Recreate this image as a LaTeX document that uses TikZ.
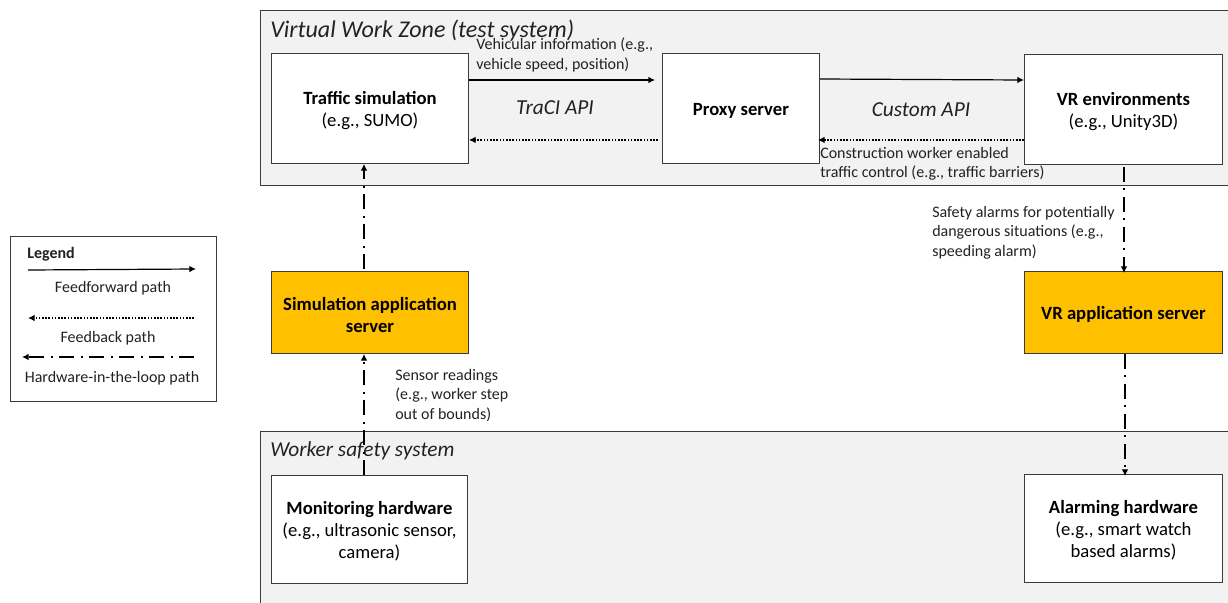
\documentclass[tikz,border=0pt]{standalone}
\usepackage{fontspec}
\setmainfont{Carlito}
\usetikzlibrary{arrows.meta,calc}
\definecolor{zonefill}{HTML}{F2F2F2}
\definecolor{appfill}{HTML}{FFC000}
\definecolor{edge}{HTML}{3A3A3A}
\definecolor{ink}{HTML}{222222}
\tikzset{
  x=0.75pt,y=-0.75pt,
  zone/.style={draw=edge,line width=0.9pt,fill=zonefill},
  whitebox/.style={draw=edge,line width=0.7pt,fill=white,align=center,text=black,font=\fontsize{14}{16.5}\selectfont},
  appbox/.style={whitebox,fill=appfill},
  lbl/.style={align=left,anchor=north west,inner sep=0pt,text=ink,font=\fontsize{12}{14.6}\selectfont},
  api/.style={inner sep=0pt,text=ink,font=\fontsize{16}{18}\selectfont\itshape},
  zonetitle/.style={anchor=west,inner sep=0pt,text=ink,font=\fontsize{16}{18}\selectfont\itshape},
  tip/.style={-{Latex[length=5pt,width=5pt]}},
  ffpath/.style={tip,line width=0.9pt,black},
  fbpath/.style={tip,line width=0.9pt,black,dash pattern=on 1.2pt off 1.2pt},
  hilpath/.style={tip,line width=0.9pt,black,dash pattern=on 11.5pt off 4.5pt on 1.5pt off 5pt},
}
\newcommand{\bx}[6]{\node[#1,minimum width=#4*0.75pt,minimum height=#5*0.75pt,anchor=north west,inner sep=0pt] (#2) at (#3) {\rule{0pt}{13pt}#6};}
\begin{document}
\begin{tikzpicture}
\useasboundingbox (0,0) rectangle (1228,603);
\clip (0,0) rectangle (1228,603);
\fill[white] (0,0) rectangle (1228,603);
% zones
\node[zone,anchor=north west,minimum width=990*0.75pt,minimum height=175*0.75pt,inner sep=0pt] (top) at (260,10) {};
\node[zone,anchor=north west,minimum width=990*0.75pt,minimum height=200*0.75pt,inner sep=0pt] (bottom) at (260,431) {};
\node[zonetitle,font=\fontsize{18}{20}\selectfont\itshape] (toptitle) at (270,31) {Virtual Work Zone (test system)};
\node[zonetitle] (bottomtitle) at (270,451) {Worker safety system};
% boxes
\bx{whitebox}{traffic}{271,53}{197}{110}{\textbf{Traffic simulation}\\(e.g., SUMO)}
\bx{whitebox}{proxy}{662,53}{157}{110}{\textbf{Proxy server}}
\bx{whitebox}{vr}{1024,54}{198}{110}{\textbf{VR environments}\\(e.g., Unity3D)}
\bx{appbox}{simapp}{271,271}{197}{82}{\textbf{Simulation application}\\\textbf{server}}
\bx{appbox}{vrapp}{1024,271}{198}{82}{\textbf{VR application server}}
\bx{whitebox}{monitor}{271,475}{196}{108}{\textbf{Monitoring hardware}\\(e.g., ultrasonic sensor,\\camera)}
\bx{whitebox}{alarm}{1024,474}{198}{108}{\textbf{Alarming hardware}\\(e.g., smart watch\\based alarms)}
% legend
\node[draw=edge,line width=0.8pt,fill=white,anchor=north west,minimum width=206*0.75pt,minimum height=165*0.75pt,inner sep=0pt] (legend) at (10,236) {};
\node[lbl,font=\fontsize{12}{14}\selectfont\bfseries] (legendtitle) at (27,247) {Legend};
\node[lbl,anchor=north] (fflabel) at (113,281) {Feedforward path};
\node[lbl,anchor=north] (fblabel) at (108,331) {Feedback path};
\node[lbl,anchor=north] (hillabel) at (112,371) {Hardware-in-the-loop path};
\coordinate (ffa) at (28,270); \coordinate (ffb) at (196,269);
\coordinate (fba) at (194,318); \coordinate (fbb) at (28,318);
\coordinate (hla) at (194,357); \coordinate (hlb) at (22,357);
\draw[ffpath] (ffa) -- (ffb);
\draw[fbpath] (fba) -- (fbb);
\draw[hilpath] (hla) -- (hlb);
% labels
\node[lbl] (veh) at (476,38) {Vehicular information (e.g.,\\vehicle speed, position)};
\node[api] (traci) at (555,108) {TraCI API};
\node[api] (custom) at (921,110) {Custom API};
\node[lbl] (constr) at (820,147) {Construction worker enabled\\traffic control (e.g., traffic barriers)};
\node[lbl] (safety) at (932,206) {Safety alarms for potentially\\dangerous situations (e.g.,\\speeding alarm)};
\node[lbl] (sensor) at (395,369) {Sensor readings\\(e.g., worker step\\out of bounds)};
% connectors
\draw[ffpath] ($(traffic.north east)+(0,27)$) -- ($(proxy.north west)+(-7,27)$);
\draw[ffpath] ($(proxy.north east)+(0,26)$) -- ($(vr.north west)+(0,26)$);
\draw[fbpath] ($(proxy.south west)+(-4,-24)$) -- ($(traffic.south east)+(0,-24)$);
\draw[fbpath] ($(vr.south west)+(0,-25)$) -- ($(proxy.south east)+(-2,-24)$);
\draw[hilpath] ($(simapp.north west)+(93,-2)$) -- ($(traffic.south west)+(93,0)$);
\draw[hilpath] ($(monitor.north west)+(93,0)$) -- ($(simapp.south west)+(93,0)$);
\draw[hilpath] ($(vr.south west)+(100,2)$) -- ($(vrapp.north west)+(100,2)$);
\draw[hilpath] ($(vrapp.south west)+(101,0)$) -- ($(alarm.north west)+(101,2)$);
\end{tikzpicture}
\end{document}
